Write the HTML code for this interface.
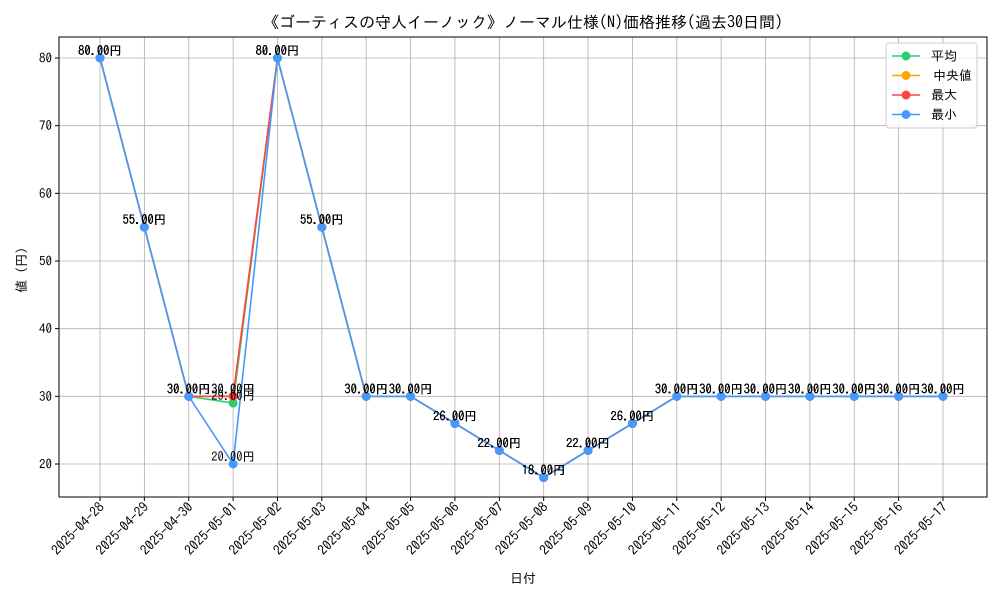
<!DOCTYPE html>
<html><head><meta charset="utf-8"><style>
body{margin:0;background:#fff}
svg text{font-family:"IPAGothic","Liberation Mono","Noto Sans CJK JP",monospace}
</style></head><body>
<svg id="c" width="1000" height="600" xmlns="http://www.w3.org/2000/svg"></svg>
<script>
const categories=["2025-04-28","2025-04-29","2025-04-30","2025-05-01","2025-05-02","2025-05-03","2025-05-04","2025-05-05","2025-05-06","2025-05-07","2025-05-08","2025-05-09","2025-05-10","2025-05-11","2025-05-12","2025-05-13","2025-05-14","2025-05-15","2025-05-16","2025-05-17"];
const avgValues=[80,55,30,29,80,55,30,30,26,22,18,22,26,30,30,30,30,30,30,30];
const medianValues=[80,55,30,30,80,55,30,30,26,22,18,22,26,30,30,30,30,30,30,30];
const maxValues=[80,55,30,30,80,55,30,30,26,22,18,22,26,30,30,30,30,30,30,30];
const minValues=[80,55,30,20,80,55,30,30,26,22,18,22,26,30,30,30,30,30,30,30];
const yTicks=[20,30,40,50,60,70,80];
const seriesNames=["平均","中央値","最大","最小"];
const colors=["#2ecc71","#ffa500","#ff4444","#4499ff"];
const svg=document.getElementById('c');const NS="http://www.w3.org/2000/svg";
function mk(t,a,p){const e=document.createElementNS(NS,t);for(const k in a)e.setAttribute(k,a[k]);(p||svg).appendChild(e);return e;}
const L=59,R=987,T=37,B=497;
const x=i=>100+i*(943-100)/19;
const y=v=>464-(v-20)*(464-58)/60;
const bg=mk('rect',{x:L,y:T,width:R-L,height:B-T,fill:'#fff'});

categories.forEach((c,i)=>{
 const g=mk('line',{x1:x(i),x2:x(i),y1:T,y2:B,stroke:'#b0b0b0','stroke-width':0.8});
 
 mk('line',{x1:x(i),x2:x(i),y1:B,y2:B+4,stroke:'#000'});
 const t=mk('text',{x:0,y:0,'font-size':13.5,'text-anchor':'end',transform:`translate(${x(i)+5},${B+11}) rotate(-45)`});
 t.textContent=c;
});
yTicks.forEach(v=>{
 const g=mk('line',{x1:L,x2:R,y1:y(v),y2:y(v),stroke:'#b0b0b0','stroke-width':0.8});
 
 mk('line',{x1:L-4,x2:L,y1:y(v),y2:y(v),stroke:'#000'});
 const t=mk('text',{x:L-7,y:y(v)+4.5,'font-size':13,'text-anchor':'end'});
 t.textContent=v;
});
const fr=mk('rect',{x:L,y:T,width:R-L,height:B-T,fill:'none',stroke:'#000','stroke-width':1});

[avgValues,medianValues,maxValues,minValues].forEach((vals,s)=>{
 const g=mk('g',{});
 mk('polyline',{points:vals.map((v,i)=>x(i)+','+y(v)).join(' '),fill:'none',stroke:colors[s],'stroke-width':1.6},g);
 vals.forEach((v,i)=>{
  const p=mk('circle',{cx:x(i),cy:y(v),r:4.5,fill:colors[s]},g);
  
 });
});
[avgValues,medianValues,maxValues,minValues].forEach((vals)=>{
 vals.forEach((v,i)=>{
  const t=mk('text',{x:x(i),y:y(v)-3,'font-size':12.5,'text-anchor':'middle'});
  t.textContent=v.toFixed(2)+'円';
 });
});
const title=mk('text',{x:523,y:28,'font-size':16,'text-anchor':'middle'});
title.textContent='《ゴーティスの守人イーノック》ノーマル仕様(N)価格推移(過去30日間)';

const xt=mk('text',{x:523,y:583,'font-size':13,'text-anchor':'middle'});xt.textContent='日付';

const yt=mk('text',{x:0,y:0,'font-size':13,'text-anchor':'middle',transform:'translate(26,270) rotate(-90)'});yt.textContent='値 (円)';

const lg=mk('g',{});
mk('rect',{x:886,y:43,width:91,height:85,rx:3,fill:'#fff','fill-opacity':0.8,stroke:'#ccc'},lg);
seriesNames.forEach((n,i)=>{
 const e=mk('g',{},lg);
 const yy=56+i*19.5;
 mk('line',{x1:892,x2:920,y1:yy,y2:yy,stroke:colors[i],'stroke-width':1.6},e);
 mk('circle',{cx:906,cy:yy,r:4.5,fill:colors[i]},e);
 const t=mk('text',{x:i==1?933:931,y:yy+4.5,'font-size':13},e);t.textContent=n;
});
</script>
</body></html>
